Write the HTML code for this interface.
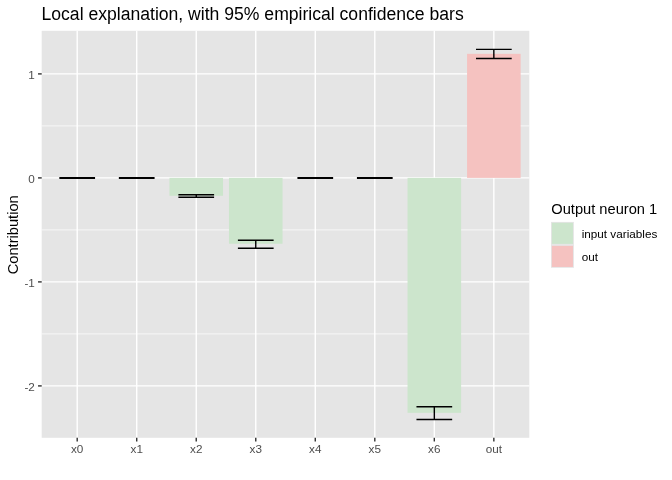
<!DOCTYPE html><html><head><meta charset="utf-8"><title>Local explanation</title>
<style>html,body{margin:0;padding:0;background:#fff;}svg{display:block;font-family:"Liberation Sans",Arial,Helvetica,sans-serif;}</style></head><body>
<svg width="672" height="480" viewBox="0 0 672 480">
<rect width="672" height="480" fill="#fff"/>
<rect x="41.7" y="30.8" width="487.60" height="407.00" fill="#E5E5E5"/>
<line x1="41.7" x2="529.3" y1="333.90" y2="333.90" stroke="#fff" stroke-width="0.71"/>
<line x1="41.7" x2="529.3" y1="229.90" y2="229.90" stroke="#fff" stroke-width="0.71"/>
<line x1="41.7" x2="529.3" y1="125.90" y2="125.90" stroke="#fff" stroke-width="0.71"/>
<line x1="41.7" x2="529.3" y1="385.90" y2="385.90" stroke="#fff" stroke-width="1.42"/>
<line x1="41.7" x2="529.3" y1="281.90" y2="281.90" stroke="#fff" stroke-width="1.42"/>
<line x1="41.7" x2="529.3" y1="177.90" y2="177.90" stroke="#fff" stroke-width="1.42"/>
<line x1="41.7" x2="529.3" y1="73.90" y2="73.90" stroke="#fff" stroke-width="1.42"/>
<line x1="77.20" x2="77.20" y1="30.8" y2="437.8" stroke="#fff" stroke-width="1.42"/>
<line x1="136.72" x2="136.72" y1="30.8" y2="437.8" stroke="#fff" stroke-width="1.42"/>
<line x1="196.24" x2="196.24" y1="30.8" y2="437.8" stroke="#fff" stroke-width="1.42"/>
<line x1="255.76" x2="255.76" y1="30.8" y2="437.8" stroke="#fff" stroke-width="1.42"/>
<line x1="315.28" x2="315.28" y1="30.8" y2="437.8" stroke="#fff" stroke-width="1.42"/>
<line x1="374.80" x2="374.80" y1="30.8" y2="437.8" stroke="#fff" stroke-width="1.42"/>
<line x1="434.32" x2="434.32" y1="30.8" y2="437.8" stroke="#fff" stroke-width="1.42"/>
<line x1="493.84" x2="493.84" y1="30.8" y2="437.8" stroke="#fff" stroke-width="1.42"/>
<rect x="169.46" y="177.90" width="53.57" height="17.89" fill="#CCE5CC"/>
<rect x="228.98" y="177.90" width="53.57" height="65.83" fill="#CCE5CC"/>
<rect x="407.54" y="177.90" width="53.57" height="234.94" fill="#CCE5CC"/>
<rect x="467.06" y="53.83" width="53.57" height="124.07" fill="#F5C2C0"/>
<path d="M59.34 177.59H95.06M77.20 177.59V178.21M59.34 178.21H95.06" stroke="#000" stroke-width="1.42" fill="none"/>
<path d="M118.86 177.59H154.58M136.72 177.59V178.21M118.86 178.21H154.58" stroke="#000" stroke-width="1.42" fill="none"/>
<path d="M178.38 194.71H214.10M196.24 194.71V197.19M178.38 197.19H214.10" stroke="#000" stroke-width="1.42" fill="none"/>
<path d="M237.90 240.20H273.62M255.76 240.20V248.31M237.90 248.31H273.62" stroke="#000" stroke-width="1.42" fill="none"/>
<path d="M297.42 177.59H333.14M315.28 177.59V178.21M297.42 178.21H333.14" stroke="#000" stroke-width="1.42" fill="none"/>
<path d="M356.94 177.59H392.66M374.80 177.59V178.21M356.94 178.21H392.66" stroke="#000" stroke-width="1.42" fill="none"/>
<path d="M416.46 406.70H452.18M434.32 406.70V419.49M416.46 419.49H452.18" stroke="#000" stroke-width="1.42" fill="none"/>
<path d="M475.98 49.36H511.70M493.84 49.36V58.51M475.98 58.51H511.70" stroke="#000" stroke-width="1.42" fill="none"/>
<line x1="38.03" x2="41.7" y1="385.90" y2="385.90" stroke="#333" stroke-width="1.42"/>
<text x="34.90" y="390.70" font-size="11.73" fill="#4D4D4D" text-anchor="end">-2</text>
<line x1="38.03" x2="41.7" y1="281.90" y2="281.90" stroke="#333" stroke-width="1.42"/>
<text x="34.90" y="286.70" font-size="11.73" fill="#4D4D4D" text-anchor="end">-1</text>
<line x1="38.03" x2="41.7" y1="177.90" y2="177.90" stroke="#333" stroke-width="1.42"/>
<text x="34.90" y="182.70" font-size="11.73" fill="#4D4D4D" text-anchor="end">0</text>
<line x1="38.03" x2="41.7" y1="73.90" y2="73.90" stroke="#333" stroke-width="1.42"/>
<text x="34.90" y="78.70" font-size="11.73" fill="#4D4D4D" text-anchor="end">1</text>
<line x1="77.20" x2="77.20" y1="437.8" y2="441.47" stroke="#333" stroke-width="1.42"/>
<text x="77.20" y="452.9" font-size="11.73" fill="#4D4D4D" text-anchor="middle">x0</text>
<line x1="136.72" x2="136.72" y1="437.8" y2="441.47" stroke="#333" stroke-width="1.42"/>
<text x="136.72" y="452.9" font-size="11.73" fill="#4D4D4D" text-anchor="middle">x1</text>
<line x1="196.24" x2="196.24" y1="437.8" y2="441.47" stroke="#333" stroke-width="1.42"/>
<text x="196.24" y="452.9" font-size="11.73" fill="#4D4D4D" text-anchor="middle">x2</text>
<line x1="255.76" x2="255.76" y1="437.8" y2="441.47" stroke="#333" stroke-width="1.42"/>
<text x="255.76" y="452.9" font-size="11.73" fill="#4D4D4D" text-anchor="middle">x3</text>
<line x1="315.28" x2="315.28" y1="437.8" y2="441.47" stroke="#333" stroke-width="1.42"/>
<text x="315.28" y="452.9" font-size="11.73" fill="#4D4D4D" text-anchor="middle">x4</text>
<line x1="374.80" x2="374.80" y1="437.8" y2="441.47" stroke="#333" stroke-width="1.42"/>
<text x="374.80" y="452.9" font-size="11.73" fill="#4D4D4D" text-anchor="middle">x5</text>
<line x1="434.32" x2="434.32" y1="437.8" y2="441.47" stroke="#333" stroke-width="1.42"/>
<text x="434.32" y="452.9" font-size="11.73" fill="#4D4D4D" text-anchor="middle">x6</text>
<line x1="493.84" x2="493.84" y1="437.8" y2="441.47" stroke="#333" stroke-width="1.42"/>
<text x="493.84" y="452.9" font-size="11.73" fill="#4D4D4D" text-anchor="middle">out</text>
<text x="41.5" y="20" font-size="17.6" fill="#000" textLength="422.2" lengthAdjust="spacing">Local explanation, with 95% empirical confidence bars</text>
<text transform="translate(17.9,234.80) rotate(-90)" font-size="14.67" fill="#000" text-anchor="middle">Contribution</text>
<text x="551.3" y="213.5" font-size="14.67" fill="#000">Output neuron 1</text>
<rect x="551.0" y="221.9" width="22.9" height="23.04" fill="#E5E5E5"/>
<rect x="551.0" y="244.94" width="22.9" height="22.9" fill="#E5E5E5"/>
<rect x="551.85" y="222.8" width="21.1" height="21.1" fill="#CCE5CC"/>
<rect x="551.85" y="245.85" width="21.1" height="21.1" fill="#F5C2C0"/>
<text x="581.7" y="237.7" font-size="11.73" fill="#000">input variables</text>
<text x="581.7" y="260.7" font-size="11.73" fill="#000">out</text>
</svg></body></html>
